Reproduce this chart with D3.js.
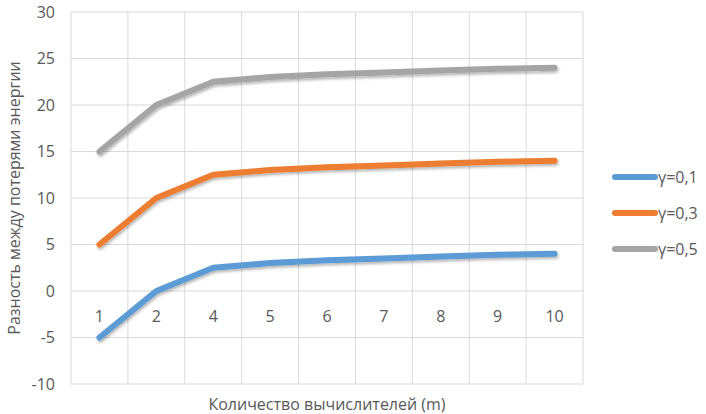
<!DOCTYPE html>
<html>
<head>
<meta charset="utf-8">
<script src="https://cdn.jsdelivr.net/npm/d3@7"></script>
<style>
  body { margin: 0; background: #fff; }
  svg text { font-family: "Open Sans", "Noto Sans", sans-serif; fill: #595959; }
</style>
</head>
<body>
<div id="chart"></div>
<script>
// Data
const categories = ['1', '2', '4', '5', '6', '7', '8', '9', '10'];
const gamma01 = [-5, 0, 2.5, 3, 3.3, 3.5, 3.7, 3.9, 4];
const gamma03 = [5, 10, 12.5, 13, 13.3, 13.5, 13.7, 13.9, 14];
const gamma05 = [15, 20, 22.5, 23, 23.3, 23.5, 23.7, 23.9, 24];
const seriesNames = ['γ=0,1', 'γ=0,3', 'γ=0,5'];
const yTicks = [-10, -5, 0, 5, 10, 15, 20, 25, 30];

const colors = ['#5b9bd5', '#ed7d31', '#a5a5a5'];
const series = [gamma01, gamma03, gamma05];

const width = 706, height = 414;
const margin = { left: 71, right: 123, top: 12, bottom: 30 };

const svg = d3.select('#chart').append('svg')
    .attr('width', width)
    .attr('height', height);

// Shadow under the lines
const defs = svg.append('defs');
const filter = defs.append('filter').attr('id', 'shadow')
    .attr('x', '-10%').attr('y', '-20%').attr('width', '120%').attr('height', '140%');
filter.append('feDropShadow')
    .attr('dx', 1).attr('dy', 2).attr('stdDeviation', 1.5)
    .attr('flood-color', '#000').attr('flood-opacity', 0.3);

// Scales
const x = d3.scaleBand()
    .domain(categories)
    .range([margin.left, width - margin.right]);

const y = d3.scaleLinear()
    .domain([-10, 30])
    .range([height - margin.bottom, margin.top]);

// Horizontal grid
svg.append('g')
    .selectAll('line')
    .data(yTicks)
    .join('line')
    .attr('x1', margin.left)
    .attr('x2', width - margin.right)
    .attr('y1', d => y(d))
    .attr('y2', d => y(d))
    .attr('stroke', '#d9d9d9')
    .attr('stroke-width', 1);

// Vertical grid (between categories)
const edges = categories.map(c => x(c)).concat([x(categories[categories.length - 1]) + x.bandwidth()]);
svg.append('g')
    .selectAll('line')
    .data(edges)
    .join('line')
    .attr('x1', d => d)
    .attr('x2', d => d)
    .attr('y1', y(30))
    .attr('y2', y(-10))
    .attr('stroke', '#d9d9d9')
    .attr('stroke-width', 1);

// Y tick labels
svg.append('g')
    .selectAll('text')
    .data(yTicks)
    .join('text')
    .attr('x', 55)
    .attr('y', d => y(d))
    .attr('dy', '0.35em')
    .attr('text-anchor', 'end')
    .style('font-size', '16px')
    .text(d => d);

// X category labels, just under the zero line
svg.append('g')
    .selectAll('text')
    .data(categories)
    .join('text')
    .attr('x', d => x(d) + x.bandwidth() / 2)
    .attr('y', y(0) + 25)
    .attr('dy', '0.35em')
    .attr('text-anchor', 'middle')
    .style('font-size', '16px')
    .text(d => d);

// Lines
const line = d3.line()
    .x((d, i) => x(categories[i]) + x.bandwidth() / 2)
    .y(d => y(d));

svg.append('g')
    .selectAll('path')
    .data(series)
    .join('path')
    .attr('d', d => line(d))
    .attr('fill', 'none')
    .attr('stroke', (d, i) => colors[i])
    .attr('stroke-width', 6)
    .attr('stroke-linecap', 'round')
    .attr('stroke-linejoin', 'round')
    .attr('filter', 'url(#shadow)');

// Axis titles
svg.append('text')
    .attr('x', (margin.left + width - margin.right) / 2)
    .attr('y', 404)
    .attr('dy', '0.35em')
    .attr('text-anchor', 'middle')
    .style('font-size', '16px')
    .text('Количество вычислителей (m)');

svg.append('text')
    .attr('transform', `translate(14, ${(margin.top + height - margin.bottom) / 2}) rotate(-90)`)
    .attr('dy', '0.35em')
    .attr('text-anchor', 'middle')
    .style('font-size', '16px')
    .text('Разность между потерями энергии');

// Legend
const legend = svg.append('g')
    .selectAll('g')
    .data(seriesNames)
    .join('g')
    .attr('transform', (d, i) => `translate(615, ${177 + i * 36})`);

legend.append('line')
    .attr('x1', 0).attr('x2', 40)
    .attr('stroke', (d, i) => colors[i])
    .attr('stroke-width', 6)
    .attr('stroke-linecap', 'round');

legend.append('text')
    .attr('x', 43)
    .attr('dy', '0.35em')
    .style('font-size', '16px')
    .text(d => d);
</script>
</body>
</html>
